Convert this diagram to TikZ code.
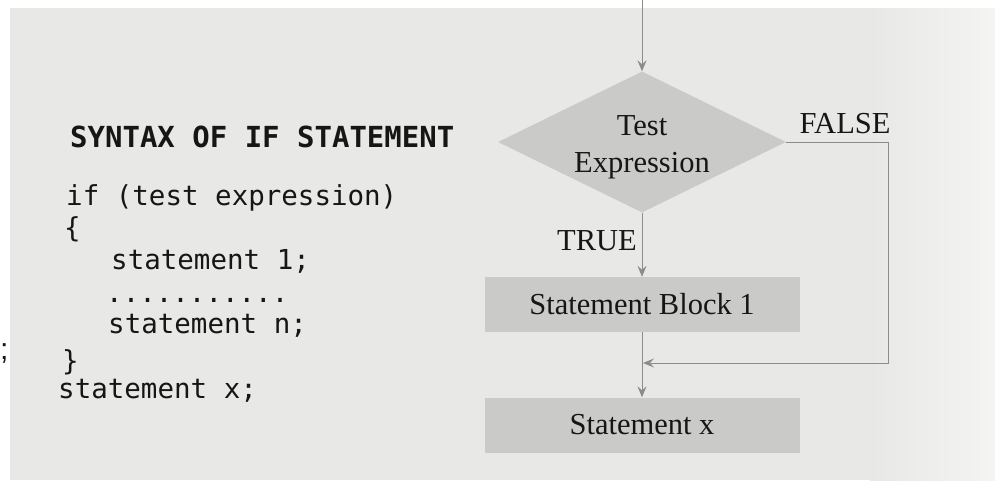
\documentclass[tikz,border=0pt]{standalone}
\usepackage{fontspec}
\setmainfont{Liberation Serif}
\setsansfont{Liberation Sans}
\setmonofont{DejaVu Sans Mono}
\usetikzlibrary{shapes.geometric,arrows.meta}

\definecolor{paper}{HTML}{E8E8E6}
\definecolor{paperlight}{HTML}{F4F4F2}
\definecolor{blockfill}{HTML}{CACAC8}
\definecolor{flowline}{HTML}{8C8C8C}
\definecolor{ink}{HTML}{161616}

\begin{document}
\begin{tikzpicture}[x=1pt,y=-1pt,
  code/.style={anchor=base west, inner sep=0pt, text=ink,
    font=\ttfamily\fontsize{27.5}{33}\selectfont},
  title/.style={code, font=\ttfamily\bfseries\fontsize{29}{34}\selectfont},
  flowtext/.style={text=ink, font=\fontsize{30.5}{37}\selectfont},
  decision/.style={diamond, shape aspect=2.04, fill=blockfill,
    minimum width=288pt, minimum height=141pt, inner sep=0pt},
  block/.style={rectangle, fill=blockfill, minimum width=315pt,
    minimum height=55pt, inner sep=0pt, flowtext},
  flow/.style={draw=flowline, line width=0.9pt,
    -{Stealth[length=11pt,width=9pt,inset=4pt]}}
]
% page and margins
\useasboundingbox (0,0) rectangle (995,482);
\fill[white] (0,0) rectangle (995,482);
\fill[paper] (10,8) rectangle (995,480);
\shade[left color=paper, right color=paperlight] (870,8) rectangle (995,480);

% syntax listing
\node[title] (syn) at (70,147) {SYNTAX OF IF STATEMENT};
\node[code] (l1) at (66,205) {if (test expression)};
\node[code] (l2) at (64,237) {\{};
\node[code] (l3) at (111,269) {statement 1;};
\node[code] (l4) at (106,302) {...........};
\node[code] (l5) at (108,333) {statement n;};
\node[code] (l6) at (62,370) {\}};
\node[code] (l7) at (58,398) {statement x;};
\node[anchor=base west, inner sep=0pt, text=ink,
  font=\sffamily\fontsize{30}{34}\selectfont] (stray) at (0,359) {;};

% flowchart
\node[decision] (test) at (642,142) {};
\node[flowtext, align=center, inner sep=0pt] (testlbl) at (642,147) {Test\\Expression};
\node[block] (blk) at (642,304.5) {Statement Block 1};
\node[block] (stx) at (642,425) {Statement x};

\node[flowtext, anchor=base, inner sep=0pt] (truelbl) at (597,250) {TRUE};
\node[flowtext, anchor=base, inner sep=0pt] (falselbl) at (845,133) {FALSE};

\coordinate (entry) at (642,0);
\coordinate (join) at (643,363);

\draw[flow] (entry) -- (test.north);
\draw[flow] (test.south) -- (blk.north);
\draw[flow] (blk.south) -- (stx.north);
\draw[flow] (test.east) -- ++(102,0) |- (join);
\end{tikzpicture}
\end{document}
